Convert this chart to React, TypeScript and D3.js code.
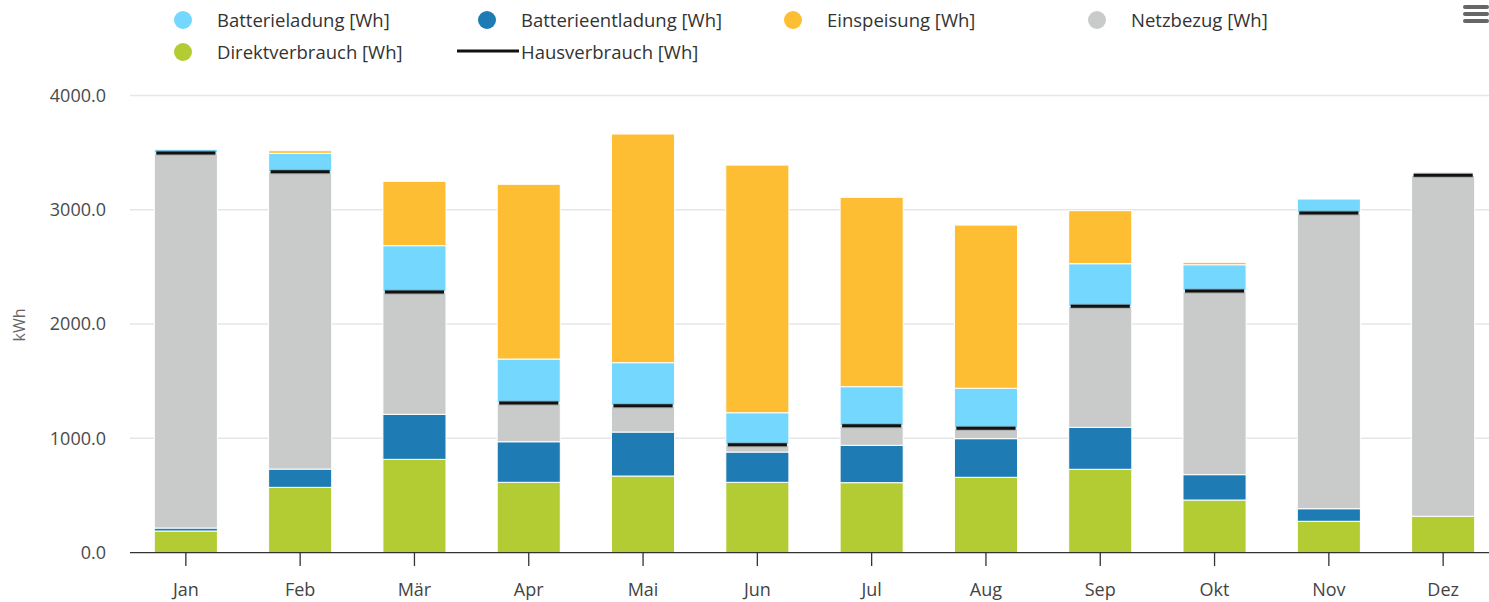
import React from "react";
import * as d3 from "d3";

const months = ["Jan", "Feb", "Mär", "Apr", "Mai", "Jun", "Jul", "Aug", "Sep", "Okt", "Nov", "Dez"];
const direktverbrauch = [189, 571, 816, 615, 670, 615, 612, 659, 729, 460, 274, 318];
const batterieentladung = [26, 160, 394, 355, 385, 265, 327, 338, 367, 222, 110, 0];
const netzbezug = [3282, 2602, 1070, 339, 230, 64, 171, 91, 1059, 1607, 2588, 2984];
const batterieladung = [32, 161, 406, 385, 377, 280, 342, 350, 373, 230, 122, 0];
const einspeisung = [0, 23, 563, 1529, 2001, 2167, 1657, 1428, 464, 21, 0, 0];
const hausverbrauch = [3497, 3333, 2280, 1309, 1285, 944, 1110, 1088, 2155, 2289, 2972, 3302];
const yTicks = [0, 1000, 2000, 3000, 4000];

const seriesKeys = ["direkt", "entladung", "netz", "ladung", "einspeisung"];
const seriesColors: Record<string, string> = {
  direkt: "#b4cc34",
  entladung: "#1f7bb4",
  netz: "#c8cbca",
  ladung: "#74d8fe",
  einspeisung: "#febe33",
};

const W = 1489;
const H = 602;
const FONT = "'Open Sans', 'Noto Sans', sans-serif";

export default function App() {
  const rows = months.map((m, i) => ({
    month: m,
    direkt: direktverbrauch[i],
    entladung: batterieentladung[i],
    netz: netzbezug[i],
    ladung: batterieladung[i],
    einspeisung: einspeisung[i],
  }));
  const stacked = d3.stack<any>().keys(seriesKeys)(rows);

  const x = d3.scaleBand<string>().domain(months).range([128.7, 1500.3]).padding(0);
  const y = d3.scaleLinear().domain([0, 4000]).range([552.6, 95.5]);
  const step = x.step();
  const bw = step * 0.552;
  const cx = (m: string) => (x(m) as number) + step / 2;

  const legendRow1 = [
    { label: "Batterieladung [Wh]", color: seriesColors.ladung, x: 183 },
    { label: "Batterieentladung [Wh]", color: seriesColors.entladung, x: 487 },
    { label: "Einspeisung [Wh]", color: seriesColors.einspeisung, x: 793 },
    { label: "Netzbezug [Wh]", color: seriesColors.netz, x: 1097 },
  ];

  return (
    <svg width={W} height={H} style={{ position: "absolute", left: 0, top: 0, background: "#fff" }} fontFamily={FONT}>
      {/* grid */}
      {yTicks.filter((t) => t > 0).map((t) => (
        <line key={t} x1={130} x2={W} y1={y(t)} y2={y(t)} stroke="#e6e6e6" strokeWidth={1.5} />
      ))}
      {/* y tick labels */}
      {yTicks.map((t) => (
        <text key={t} x={106} y={y(t)} dy="0.35em" textAnchor="end" fontSize={18} fill="#4a4a4a">
          {d3.format(".1f")(t)}
        </text>
      ))}
      <text transform={`translate(25,325) rotate(-90)`} textAnchor="middle" fontSize={16} fill="#666">
        kWh
      </text>
      {/* bars */}
      {stacked.map((s) => (
        <g key={s.key} fill={seriesColors[s.key]}>
          {s.map((d, i) => {
            const h = y(d[0]) - y(d[1]);
            if (h <= 0) return null;
            return (
              <rect
                key={i}
                x={cx(months[i]) - bw / 2}
                y={y(d[1])}
                width={bw}
                height={h}
                stroke="#fff"
                strokeWidth={1}
              />
            );
          })}
        </g>
      ))}
      {/* Hausverbrauch markers */}
      {hausverbrauch.map((v, i) => (
        <g key={i}>
          <line x1={cx(months[i]) - bw / 2 + 2} x2={cx(months[i]) + bw / 2 - 2} y1={y(v)} y2={y(v)} stroke="#888" strokeWidth={5} opacity={0.5} />
          <line x1={cx(months[i]) - bw / 2 + 2} x2={cx(months[i]) + bw / 2 - 2} y1={y(v)} y2={y(v)} stroke="#111" strokeWidth={3} />
        </g>
      ))}
      {/* x axis */}
      <line x1={130} x2={W} y1={552.6} y2={552.6} stroke="#333" strokeWidth={1.3} />
      {months.map((m) => (
        <g key={m}>
          <line x1={cx(m)} x2={cx(m)} y1={552.6} y2={566} stroke="#333" strokeWidth={1.3} />
          <text x={cx(m)} y={596} textAnchor="middle" fontSize={18} fill="#444">
            {m}
          </text>
        </g>
      ))}
      {/* legend */}
      {legendRow1.map((l) => (
        <g key={l.label}>
          <circle cx={l.x} cy={20} r={9} fill={l.color} />
          <text x={l.x + 34} y={26.5} fontSize={18.5} fill="#333">
            {l.label}
          </text>
        </g>
      ))}
      <circle cx={183} cy={52} r={9} fill={seriesColors.direkt} />
      <text x={217} y={58.5} fontSize={18.5} fill="#333">Direktverbrauch [Wh]</text>
      <line x1={457} x2={519} y1={51} y2={51} stroke="#111" strokeWidth={3} />
      <text x={521} y={58.5} fontSize={18.5} fill="#333">Hausverbrauch [Wh]</text>
      {/* menu icon */}
      {[5, 12, 19].map((yy) => (
        <rect key={yy} x={1463} y={yy} width={26} height={4} rx={2} fill="#666" />
      ))}
    </svg>
  );
}
